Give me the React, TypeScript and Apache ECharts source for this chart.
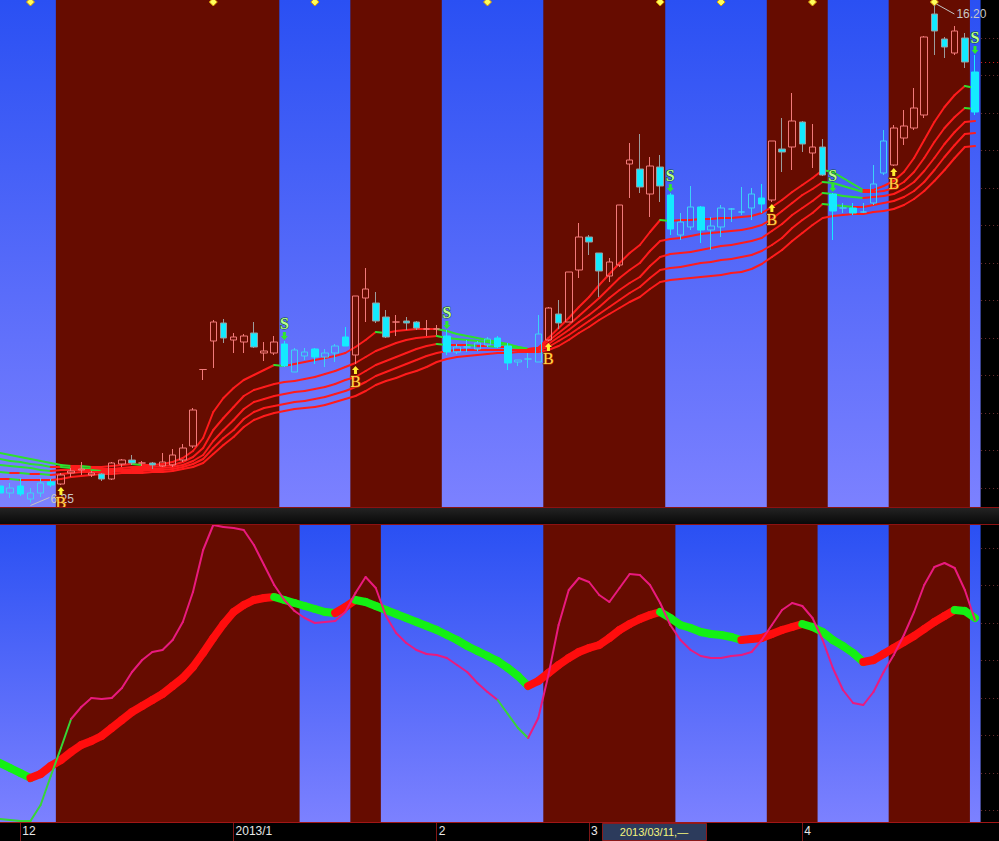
import React, { useEffect, useRef } from "react";
import * as echarts from "echarts";

// ---------- categories (trading days) ----------
const tradingDays: [number, number, number[]][] = [
  [2012, 11, [29, 30]],
  [2012, 12, [3, 4, 5, 6, 7, 10, 11, 12, 13, 14, 17, 18, 19, 20, 21, 24, 25, 26, 27, 28, 31]],
  [2013, 1, [4, 7, 8, 9, 10, 11, 14, 15, 16, 17, 18, 21, 22, 23, 24, 25, 28, 29, 30, 31]],
  [2013, 2, [1, 4, 5, 6, 7, 8, 18, 19, 20, 21, 22, 25, 26, 27, 28]],
  [2013, 3, [1, 4, 5, 6, 7, 8, 11, 12, 13, 14, 15, 18, 19, 20, 21, 22, 25, 26, 27, 28, 29]],
  [2013, 4, [1, 2, 3, 8, 9, 10, 11, 12, 15, 16, 17, 18, 19, 22, 23, 24, 25, 26]],
];

// ---------- price candles ----------
const opens = [
  6.58, 6.44, 6.58, 6.32, 6.44, 6.66, 6.62, 6.84, 6.90, 6.80,
  6.82, 6.72, 7.02, 7.10, 7.04, 7.04, 6.98, 7.00, 7.10, 7.38,
  8.91, 9.48, 9.84, 9.50, 9.46, 9.64, 9.24, 9.24, 9.42, 8.86,
  9.18, 9.32, 9.16, 9.24, 9.56, 9.20, 10.34, 10.24, 9.96, 9.86,
  9.88, 9.86, 9.72, 9.72, 9.58, 9.26, 9.36, 9.32, 9.40, 9.54,
  9.38, 9.06, 9.12, 9.06, 9.50, 10.02, 9.86, 10.90, 11.56, 11.24,
  10.78, 11.00, 13.02, 12.92, 12.42, 12.96, 12.40, 11.60, 11.76, 12.16,
  11.70, 11.76, 12.12, 12.06, 12.14, 12.34, 12.30, 13.32, 13.36, 13.86,
  13.24, 13.36, 12.42, 12.14, 12.14, 12.06, 12.24, 12.84, 13.00, 13.54,
  13.74, 14.00, 16.02, 15.52, 15.24, 15.54, 14.86,
];
const closes = [
  6.44, 6.54, 6.42, 6.44, 6.64, 6.60, 6.80, 6.88, 6.92, 6.84,
  6.72, 7.04, 7.10, 7.04, 7.04, 7.00, 7.06, 7.20, 7.34, 8.10,
  8.91, 9.86, 9.54, 9.56, 9.58, 9.36, 9.28, 9.46, 8.98, 9.30,
  9.26, 9.16, 9.24, 9.38, 9.38, 10.38, 10.52, 9.88, 9.56, 9.86,
  9.84, 9.74, 9.72, 9.72, 9.26, 9.36, 9.36, 9.44, 9.52, 9.36,
  9.04, 9.10, 9.12, 9.62, 10.14, 9.84, 10.86, 11.56, 11.46, 10.88,
  11.06, 12.20, 13.10, 12.56, 12.98, 12.58, 11.72, 11.86, 12.16, 11.70,
  11.78, 12.14, 12.12, 12.06, 12.42, 12.22, 13.48, 13.26, 13.88, 13.42,
  13.36, 12.80, 12.08, 12.14, 12.04, 12.06, 12.62, 13.48, 13.74, 13.78,
  14.14, 15.56, 15.68, 15.36, 15.68, 15.06, 14.06,
];
const lows = [
  6.40, 6.34, 6.38, 6.25, 6.36, 6.56, 6.60, 6.76, 6.80, 6.76,
  6.68, 6.70, 6.96, 7.00, 6.98, 6.92, 6.96, 6.96, 7.06, 7.34,
  8.70, 8.94, 9.44, 9.24, 9.24, 9.34, 9.08, 9.20, 8.96, 8.86,
  9.10, 9.02, 8.96, 9.06, 9.38, 9.02, 9.86, 9.84, 9.54, 9.58,
  9.70, 9.70, 9.58, 9.60, 9.20, 9.22, 9.26, 9.28, 9.36, 9.34,
  8.90, 8.98, 8.94, 9.06, 9.48, 9.72, 9.86, 10.74, 11.20, 10.36,
  10.66, 10.96, 12.34, 12.44, 11.96, 12.26, 11.60, 11.50, 11.70, 11.44,
  11.30, 11.56, 11.86, 12.00, 11.90, 12.04, 12.26, 12.86, 12.90, 13.26,
  12.94, 12.78, 11.50, 12.04, 12.00, 12.04, 12.20, 12.80, 12.98, 13.40,
  13.70, 13.94, 15.20, 15.14, 15.20, 14.94, 14.00,
];
const highs = [
  6.62, 6.64, 6.74, 6.54, 6.74, 6.72, 6.84, 6.94, 7.06, 6.88,
  6.84, 7.06, 7.12, 7.20, 7.08, 7.06, 7.24, 7.32, 7.42, 8.14,
  8.91, 9.90, 9.92, 9.64, 9.62, 9.86, 9.46, 9.58, 9.48, 9.34,
  9.34, 9.34, 9.32, 9.42, 9.76, 10.38, 10.94, 10.46, 10.10, 10.00,
  9.96, 9.88, 9.90, 9.80, 9.70, 9.42, 9.50, 9.48, 9.56, 9.58,
  9.44, 9.10, 9.24, 10.00, 10.16, 10.30, 10.86, 11.84, 11.60, 11.24,
  11.14, 12.20, 13.44, 13.62, 13.16, 13.20, 12.44, 12.04, 12.58, 12.18,
  11.96, 12.20, 12.14, 12.56, 12.54, 12.62, 13.48, 13.94, 14.44, 13.88,
  13.82, 13.52, 12.44, 12.24, 12.24, 12.24, 13.00, 13.70, 13.80, 14.10,
  14.54, 15.58, 16.20, 15.56, 15.78, 15.64, 15.20,
];

// ---------- moving-average ribbon ----------
const ma1 = [
  7.24, 7.20, 7.16, 7.12, 7.08, 7.04, 7.00, 6.98, 6.98, 6.96,
  6.96, 6.98, 7.00, 7.02, 7.00, 7.00, 7.02, 7.06, 7.14, 7.28,
  7.54, 8.06, 8.34, 8.54, 8.70, 8.80, 8.90, 9.00, 8.98, 9.02,
  9.06, 9.10, 9.14, 9.18, 9.24, 9.36, 9.50, 9.66, 9.64, 9.68,
  9.70, 9.72, 9.72, 9.72, 9.68, 9.62, 9.58, 9.54, 9.50, 9.46,
  9.42, 9.36, 9.32, 9.34, 9.54, 9.74, 9.94, 10.16, 10.36, 10.60,
  10.82, 11.04, 11.24, 11.40, 11.66, 11.90, 11.88, 11.90, 11.90, 11.92,
  11.92, 11.94, 11.94, 11.96, 11.98, 12.04, 12.16, 12.30, 12.46, 12.60,
  12.74, 12.90, 12.86, 12.74, 12.62, 12.50, 12.50, 12.58, 12.68, 12.86,
  13.14, 13.50, 13.86, 14.16, 14.40, 14.58, 14.54,
];
const ma2 = [
  7.12, 7.08, 7.06, 7.02, 7.00, 6.96, 6.96, 6.94, 6.94, 6.92,
  6.92, 6.92, 6.94, 6.96, 6.96, 6.96, 6.98, 7.00, 7.06, 7.16,
  7.34, 7.70, 7.94, 8.16, 8.38, 8.50, 8.56, 8.62, 8.66, 8.68,
  8.72, 8.76, 8.82, 8.88, 8.96, 9.04, 9.16, 9.28, 9.36, 9.44,
  9.50, 9.54, 9.56, 9.58, 9.54, 9.52, 9.50, 9.48, 9.46, 9.42,
  9.40, 9.36, 9.32, 9.34, 9.48, 9.64, 9.80, 9.98, 10.16, 10.34,
  10.54, 10.74, 10.90, 11.04, 11.28, 11.48, 11.52, 11.54, 11.58, 11.62,
  11.64, 11.66, 11.68, 11.70, 11.74, 11.80, 11.92, 12.08, 12.24, 12.40,
  12.52, 12.66, 12.64, 12.58, 12.52, 12.46, 12.46, 12.48, 12.54, 12.66,
  12.86, 13.14, 13.46, 13.74, 13.96, 14.14, 14.12,
];
const ma3 = [
  7.00, 6.98, 6.96, 6.94, 6.90, 6.88, 6.90, 6.90, 6.90, 6.90,
  6.88, 6.90, 6.90, 6.92, 6.92, 6.92, 6.94, 6.96, 7.00, 7.08,
  7.20, 7.48, 7.70, 7.90, 8.12, 8.26, 8.32, 8.38, 8.42, 8.46,
  8.48, 8.52, 8.56, 8.62, 8.70, 8.76, 8.88, 9.00, 9.08, 9.16,
  9.24, 9.32, 9.38, 9.42, 9.40, 9.40, 9.40, 9.38, 9.38, 9.36,
  9.36, 9.34, 9.32, 9.32, 9.42, 9.56, 9.70, 9.86, 10.00, 10.16,
  10.34, 10.50, 10.64, 10.76, 10.98, 11.16, 11.22, 11.24, 11.26, 11.30,
  11.34, 11.38, 11.40, 11.44, 11.48, 11.54, 11.68, 11.82, 12.00, 12.14,
  12.28, 12.44, 12.42, 12.38, 12.36, 12.34, 12.36, 12.38, 12.42, 12.52,
  12.66, 12.88, 13.14, 13.42, 13.66, 13.86, 13.88,
];
const ma4 = [
  6.86, 6.84, 6.84, 6.82, 6.82, 6.80, 6.82, 6.84, 6.86, 6.86,
  6.86, 6.86, 6.88, 6.88, 6.88, 6.90, 6.90, 6.92, 6.96, 7.02,
  7.12, 7.34, 7.54, 7.70, 7.92, 8.06, 8.14, 8.18, 8.22, 8.26,
  8.28, 8.32, 8.36, 8.42, 8.48, 8.56, 8.66, 8.78, 8.86, 8.94,
  9.02, 9.10, 9.18, 9.24, 9.28, 9.30, 9.30, 9.30, 9.30, 9.30,
  9.30, 9.30, 9.30, 9.30, 9.36, 9.48, 9.60, 9.74, 9.88, 10.02,
  10.16, 10.30, 10.44, 10.56, 10.74, 10.90, 10.94, 10.96, 11.00, 11.04,
  11.06, 11.10, 11.12, 11.16, 11.20, 11.28, 11.40, 11.54, 11.74, 11.90,
  12.04, 12.22, 12.20, 12.18, 12.16, 12.16, 12.20, 12.24, 12.28, 12.36,
  12.48, 12.66, 12.90, 13.16, 13.40, 13.62, 13.64,
];
const ma5 = [
  6.72, 6.72, 6.70, 6.70, 6.70, 6.70, 6.72, 6.76, 6.78, 6.80,
  6.82, 6.82, 6.84, 6.84, 6.84, 6.86, 6.86, 6.88, 6.92, 6.96,
  7.04, 7.22, 7.40, 7.56, 7.76, 7.90, 7.98, 8.04, 8.08, 8.12,
  8.14, 8.16, 8.20, 8.26, 8.32, 8.38, 8.48, 8.60, 8.68, 8.74,
  8.82, 8.88, 8.96, 9.06, 9.12, 9.16, 9.18, 9.20, 9.22, 9.24,
  9.24, 9.26, 9.26, 9.26, 9.30, 9.38, 9.50, 9.64, 9.76, 9.90,
  10.02, 10.14, 10.26, 10.36, 10.52, 10.66, 10.70, 10.72, 10.74, 10.76,
  10.78, 10.80, 10.84, 10.86, 10.92, 11.02, 11.16, 11.30, 11.48, 11.64,
  11.80, 11.94, 11.98, 12.00, 12.02, 12.02, 12.06, 12.08, 12.12, 12.20,
  12.32, 12.48, 12.68, 12.90, 13.14, 13.36, 13.38,
];

// ---------- lower oscillator ----------
const oscSlow = [
  59, 54, 49, 44, 48, 56, 62, 70, 77, 81,
  86, 94, 102, 110, 116, 122, 128, 136, 144, 155,
  169, 184, 198, 210, 217, 222, 224, 225, 222, 219,
  216, 213, 210, 209, 215, 222, 220, 216, 212, 208,
  204, 200, 196, 192, 187, 182, 176, 171, 166, 161,
  154, 146, 136, 141, 149, 157, 164, 170, 174, 177,
  184, 192, 198, 203, 207, 210, 204, 197, 194, 190,
  188, 187, 185, 182, 183, 184, 188, 192, 195, 198,
  195, 190, 182, 176, 169, 160, 162, 168, 174, 180,
  186, 193, 200, 206, 212, 211, 204,
];
const oscFast = [
  3, 2, 1, 1, 17, 46, 74, 103, 115, 124,
  123, 124, 134, 150, 162, 170, 172, 182, 200, 230,
  272, 297, 295, 294, 292, 277, 257, 237, 222, 211,
  204, 199, 200, 201, 210, 229, 245, 234, 206, 189,
  179, 172, 168, 167, 164, 157, 150, 139, 130, 122,
  108, 94, 84, 104, 147, 197, 232, 244, 240, 227,
  220, 234, 248, 247, 237, 219, 197, 182, 172, 166,
  164, 164, 166, 167, 170, 182, 197, 212, 219, 216,
  204, 182, 154, 132, 119, 117, 130, 150, 167, 187,
  210, 237, 255, 259, 254, 232, 202,
];
const oscFastGreenRanges = [[0, 7], [49, 52]];

// ---------- signals / bands / marks ----------
const buySignals = [6, 35, 54, 76, 88];
const sellSignals = [28, 44, 66, 82, 96];
const lowerRedRanges = [[6, 29], [35, 37], [54, 66], [76, 80], [88, 95]];
const infoMarks = [3, 21, 31, 48, 65, 71, 80, 92];
const priceTicks = [6.55, 7.3, 8.05, 8.8, 9.55, 10.3, 11.05, 11.8, 12.55, 13.3, 14.05, 14.8, 15.55];
const oscTicks = [12, 49.5, 87, 124.5, 162, 199.5, 237, 274.5];
const cursorDate = "2013/03/11";
const PRICE_MIN = 6.16;
const PRICE_MAX = 16.3;
const OSC_MIN = 0;
const OSC_MAX = 297;

// ---------- derived ----------
const pad = (n: number) => (n < 10 ? "0" + n : "" + n);
const dates: string[] = [];
const months: number[] = [];
const years: number[] = [];
tradingDays.forEach(([y, m, days]) =>
  days.forEach((d) => {
    dates.push(`${y}/${pad(m)}/${pad(d)}`);
    months.push(m);
    years.push(y);
  })
);
const N = dates.length;
const isMonthStart = (i: number) => i > 0 && months[i] !== months[i - 1];
const monthLabel = (i: number) => (months[i] === 1 ? `${years[i]}/1` : `${months[i]}`);

const upperRedRanges = buySignals.map((b) => {
  const s = sellSignals.find((x) => x > b);
  return [b, (s === undefined ? N : s) - 1];
});
function buildBands(red: number[][]) {
  const out: number[][] = [];
  let cur = 0;
  red.forEach(([s, e]) => {
    if (s > cur) out.push([cur, s - 1, 0]);
    out.push([s, e, 1]);
    cur = e + 1;
  });
  if (cur <= N - 1) out.push([cur, N - 1, 0]);
  return out;
}
const isRedTop = (i: number) => upperRedRanges.some(([s, e]) => i >= s && i <= e);
const segData = (v: number[]) => v.slice(0, -1).map((x, i) => [i, x, v[i + 1]]);

const RED_BG = "#660c00";
const SALMON = "#f27a7a";
const CYAN = "#14eaff";
const CYAN_LINE = "#3cd2f6";
const GRAY = "#9c9c9c";
const MA_RED = "#ff1c1c";
const MA_GREEN = "#2ee02e";

const blueGrad = () =>
  new echarts.graphic.LinearGradient(0, 0, 0, 1, [
    { offset: 0, color: "#2a50f3" },
    { offset: 1, color: "#7c81ff" },
  ]);

const bandRender = (params: any, api: any) => {
  const s = api.value(0);
  const e = api.value(1);
  const kind = api.value(2);
  const cs = params.coordSys;
  const w = api.size([1, 0])[0];
  const x0 = api.coord([s, 0])[0] - w / 2;
  const x1 = api.coord([e, 0])[0] + w / 2;
  return {
    type: "rect",
    shape: { x: x0, y: cs.y, width: x1 - x0 + 0.5, height: cs.height },
    style: { fill: kind ? RED_BG : blueGrad() },
  };
};

const segRender =
  (width: number, colorFn: (i: number, a: number, b: number) => string) =>
  (params: any, api: any) => {
    const i = api.value(0);
    const a = api.value(1);
    const b = api.value(2);
    const p1 = api.coord([i, a]);
    const p2 = api.coord([i + 1, b]);
    return {
      type: "line",
      shape: { x1: p1[0], y1: p1[1], x2: p2[0], y2: p2[1] },
      style: { stroke: colorFn(i, a, b), lineWidth: width, lineCap: "round" },
    };
  };

const txt = (x: number, y: number, text: string, fill: string, font: string, align: string, extra: any = {}) => ({
  type: "text",
  x,
  y,
  style: {
    text,
    fill,
    font,
    align,
    textAlign: align,
    verticalAlign: "middle",
    textVerticalAlign: "middle",
    ...extra,
  },
});

const stripTick = (color: string) => (params: any, api: any) => {
  const y = Math.round(api.coord([0, api.value(1)])[1]) + 0.5;
  const half = api.size([1, 0])[0] / 2;
  const x0 = params.coordSys.x + params.coordSys.width + half;
  return {
    type: "line",
    shape: { x1: x0 + 1, y1: y, x2: x0 + 19, y2: y },
    style: { stroke: api.value(2) === 1 ? "#e01c1c" : color, lineWidth: 1, lineDash: [1, 3] },
  };
};

function buildOption(): any {
  const candleData = opens.map((o, i) => {
    const c = closes[i];
    const red = isRedTop(i);
    const down = c < o;
    let style: any;
    if (red) {
      style = down
        ? { color: CYAN, color0: CYAN, borderColor: GRAY, borderColor0: GRAY, borderColorDoji: GRAY }
        : { color: "transparent", color0: "transparent", borderColor: SALMON, borderColor0: SALMON, borderColorDoji: SALMON };
    } else {
      style = down
        ? { color: CYAN, color0: CYAN, borderColor: CYAN, borderColor0: CYAN, borderColorDoji: CYAN }
        : { color: "transparent", color0: "transparent", borderColor: CYAN_LINE, borderColor0: CYAN_LINE, borderColorDoji: CYAN_LINE };
    }
    return { value: [o, c, lows[i], highs[i]], itemStyle: { ...style, borderWidth: 1 } };
  });

  const maSeries = [ma1, ma2, ma3, ma4, ma5].map((m) => ({
    type: "custom",
    xAxisIndex: 0,
    yAxisIndex: 0,
    silent: true,
    clip: false,
    encode: { x: 0, y: [1, 2] },
    data: segData(m),
    renderItem: segRender(2, (_i, a, b) => (b < a ? MA_GREEN : MA_RED)),
  }));

  const hiVal = Math.max(...highs);
  const loVal = Math.min(...lows);
  const hiIdx = highs.indexOf(hiVal);
  const loIdx = lows.indexOf(loVal);

  const signalData = [
    ...sellSignals.map((i) => [i, highs[i], 0]),
    ...buySignals.map((i) => [i, lows[i], 1]),
  ];

  const cursorIdx = dates.indexOf(cursorDate);
  const fastGreen = (i: number) => oscFastGreenRanges.some(([s, e]) => i >= s && i < e);

  return {
    backgroundColor: "#000000",
    animation: false,
    grid: [
      { left: 0, right: 24, top: 0, height: 507 },
      { left: 0, right: 24, top: 525, height: 297 },
    ],
    xAxis: [
      { type: "category", gridIndex: 0, data: dates, boundaryGap: false, show: false },
      {
        type: "category",
        gridIndex: 1,
        data: dates,
        boundaryGap: false,
        axisLine: { show: false },
        splitLine: { show: false },
        axisTick: {
          show: true,
          interval: (i: number) => isMonthStart(i),
          length: 19,
          lineStyle: { color: "#7e1616", width: 1 },
        },
        axisLabel: {
          interval: (i: number) => isMonthStart(i),
          formatter: (_v: string, i: number) => monthLabel(i),
          color: "#e8e8e8",
          fontSize: 12,
          fontFamily: '"Liberation Sans", Arial, sans-serif',
          align: "left",
          margin: 3,
          padding: [0, 0, 0, 2],
        },
      },
    ],
    yAxis: [
      { type: "value", gridIndex: 0, min: PRICE_MIN, max: PRICE_MAX, show: false },
      { type: "value", gridIndex: 1, min: OSC_MIN, max: OSC_MAX, show: false },
    ],
    graphic: [
      {
        type: "rect",
        z: 100,
        shape: { x: 0, y: 507, width: 999, height: 18 },
        style: {
          fill: new echarts.graphic.LinearGradient(0, 0, 0, 1, [
            { offset: 0, color: "#242424" },
            { offset: 1, color: "#070707" },
          ]),
        },
      },
      { type: "line", z: 101, shape: { x1: 0, y1: 507.5, x2: 999, y2: 507.5 }, style: { stroke: "#8c1212", lineWidth: 1 } },
      { type: "line", z: 101, shape: { x1: 0, y1: 524.5, x2: 999, y2: 524.5 }, style: { stroke: "#8c1212", lineWidth: 1 } },
      { type: "line", z: 101, shape: { x1: 0, y1: 822.5, x2: 999, y2: 822.5 }, style: { stroke: "#a01616", lineWidth: 1 } },
    ],
    series: [
      // upper background bands
      {
        type: "custom",
        xAxisIndex: 0,
        yAxisIndex: 0,
        silent: true,
        clip: false,
        encode: { x: [0, 1] },
        data: buildBands(upperRedRanges),
        renderItem: bandRender,
      },
      ...maSeries,
      {
        type: "candlestick",
        xAxisIndex: 0,
        yAxisIndex: 0,
        barWidth: 7,
        silent: true,
        clip: false,
        data: candleData,
      },
      // info diamonds
      {
        type: "custom",
        xAxisIndex: 0,
        yAxisIndex: 0,
        silent: true,
        clip: false,
        encode: { x: 0, y: 1 },
        data: infoMarks.map((i) => [i, PRICE_MAX]),
        renderItem: (params: any, api: any) => {
          const x = api.coord([api.value(0), api.value(1)])[0];
          const y = params.coordSys.y + 2;
          return {
            type: "polygon",
            shape: { points: [[x, y - 4], [x + 4, y], [x, y + 4], [x - 4, y]] },
            style: { fill: "#ffff5a", stroke: "#d89a00", lineWidth: 1 },
          };
        },
      },
      // extreme labels
      {
        type: "custom",
        xAxisIndex: 0,
        yAxisIndex: 0,
        silent: true,
        clip: false,
        encode: { x: 0, y: 1 },
        data: [
          [hiIdx, hiVal, 0],
          [loIdx, loVal, 1],
        ],
        renderItem: (_params: any, api: any) => {
          const v = api.value(1);
          const [x, y] = api.coord([api.value(0), v]);
          const hi = api.value(2) === 0;
          const line = hi
            ? { x1: x + 2, y1: y - 1, x2: x + 20, y2: y + 9 }
            : { x1: x, y1: y + 3, x2: x + 19, y2: y - 5 };
          return {
            type: "group",
            children: [
              { type: "line", shape: line, style: { stroke: "#c4c4c4", lineWidth: 1 } },
              txt(hi ? x + 22 : x + 20, hi ? y + 9 : y - 4, v.toFixed(2), "#c8c8c8", '12px "Liberation Sans", Arial, sans-serif', "left"),
            ],
          };
        },
      },
      // buy / sell signals
      {
        type: "custom",
        xAxisIndex: 0,
        yAxisIndex: 0,
        silent: true,
        clip: false,
        encode: { x: 0, y: 1 },
        data: signalData,
        renderItem: (_params: any, api: any) => {
          const [x, y] = api.coord([api.value(0), api.value(1)]);
          if (api.value(2) === 0) {
            const t = y - 9;
            return {
              type: "group",
              children: [
                {
                  type: "polygon",
                  shape: { points: [[x - 1.5, t], [x + 1.5, t], [x + 1.5, t + 4], [x + 3.5, t + 4], [x, t + 8], [x - 3.5, t + 4], [x - 1.5, t + 4]] },
                  style: { fill: "#2ee82e" },
                },
                txt(x, y - 18, "S", "#b8ff8e", 'bold 16px "Liberation Serif", "DejaVu Serif", serif', "center", { stroke: "#0c500c", lineWidth: 1 }),
              ],
            };
          }
          const t = y + 2;
          return {
            type: "group",
            children: [
              {
                type: "polygon",
                shape: { points: [[x, t], [x + 3.5, t + 4], [x + 1.5, t + 4], [x + 1.5, t + 8], [x - 1.5, t + 8], [x - 1.5, t + 4], [x - 3.5, t + 4]] },
                style: { fill: "#ffee30" },
              },
              txt(x, y + 17, "B", "#ffd84a", '16px "Liberation Serif", "DejaVu Serif", serif', "center", { stroke: "#b83a00", lineWidth: 1 }),
            ],
          };
        },
      },
      // right strip price ticks
      {
        type: "custom",
        xAxisIndex: 0,
        yAxisIndex: 0,
        silent: true,
        clip: false,
        encode: { x: 0, y: 1 },
        data: [...priceTicks.map((v) => [0, v, 0]), [0, closes[N - 2], 1]],
        renderItem: stripTick("#6e3030"),
      },
      // lower background bands
      {
        type: "custom",
        xAxisIndex: 1,
        yAxisIndex: 1,
        silent: true,
        clip: false,
        encode: { x: [0, 1] },
        data: buildBands(lowerRedRanges),
        renderItem: bandRender,
      },
      // thick oscillator line
      {
        type: "custom",
        xAxisIndex: 1,
        yAxisIndex: 1,
        silent: true,
        clip: false,
        encode: { x: 0, y: [1, 2] },
        data: segData(oscSlow),
        renderItem: segRender(8, (_i, a, b) => (b < a ? "#14f014" : "#ff0d0d")),
      },
      // thin oscillator line
      {
        type: "custom",
        xAxisIndex: 1,
        yAxisIndex: 1,
        silent: true,
        clip: false,
        encode: { x: 0, y: [1, 2] },
        data: segData(oscFast),
        renderItem: segRender(2, (i) => (fastGreen(i) ? "#36d636" : "#ea1a7e")),
      },
      // right strip osc ticks
      {
        type: "custom",
        xAxisIndex: 1,
        yAxisIndex: 1,
        silent: true,
        clip: false,
        encode: { x: 0, y: 1 },
        data: oscTicks.map((v) => [0, v, 0]),
        renderItem: stripTick("#6e3030"),
      },
      // cursor date box
      {
        type: "custom",
        xAxisIndex: 1,
        yAxisIndex: 1,
        silent: true,
        clip: false,
        z: 120,
        encode: { x: 0, y: 1 },
        data: [[cursorIdx, 0]],
        renderItem: (params: any, api: any) => {
          const x = api.coord([api.value(0), 0])[0];
          const y0 = params.coordSys.y + params.coordSys.height;
          return {
            type: "group",
            children: [
              {
                type: "rect",
                shape: { x: Math.round(x - 48) + 0.5, y: y0 + 1.5, width: 104, height: 17 },
                style: { fill: "#2c3b5c", stroke: "#8a1a1a", lineWidth: 1 },
              },
              txt(x + 4, y0 + 10, dates[api.value(0)] + ",\u2014", "#f4f47c", '11px "Liberation Sans", Arial, sans-serif', "center"),
            ],
          };
        },
      },
    ],
  };
}

export default function App() {
  const ref = useRef<HTMLDivElement>(null);
  useEffect(() => {
    if (!ref.current) return;
    const chart = echarts.init(ref.current, undefined, { renderer: "svg" });
    chart.setOption(buildOption());
    return () => chart.dispose();
  }, []);
  return (
    <div
      ref={ref}
      style={{ position: "fixed", left: 0, top: 0, width: 999, height: 841, background: "#000" }}
    />
  );
}
